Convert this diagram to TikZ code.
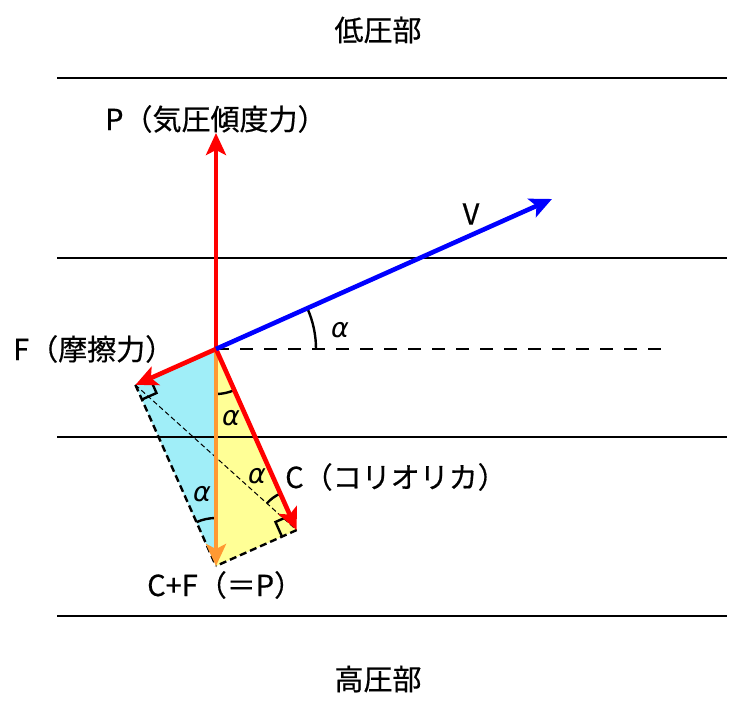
\documentclass[tikz,border=0pt]{standalone}
\usepackage{fontspec}
\setmainfont{Noto Sans CJK JP}[FakeBold=0.5]
\newfontfamily\greekfont{DejaVu Sans}
\usetikzlibrary{arrows.meta,calc}
\definecolor{myorange}{RGB}{255,153,51}
\definecolor{mycyan}{RGB}{160,238,248}
\definecolor{myyellow}{RGB}{255,255,150}
\tikzset{
  vec/.style={line width=4.6pt,-{Stealth[length=22pt,width=20pt,inset=5pt]}},
  band/.style={line width=2.2pt,black},
  dashline/.style={line width=2.4pt,black,dash pattern=on 7pt off 4pt},
  thindash/.style={line width=1pt,black,dash pattern=on 5pt off 3pt},
  anglearc/.style={line width=2.4pt,black},
  lbl/.style={inner sep=0pt,font=\fontsize{29}{32}\selectfont},
  alab/.style={inner sep=0pt,font=\greekfont\itshape\fontsize{27}{30}\selectfont}
}
\begin{document}
\begin{tikzpicture}[x=1pt,y=-1pt]
\useasboundingbox (0,0) rectangle (729,708);
% key points
\coordinate (O) at (216,349);
\coordinate (Ptip) at (216,133);
\coordinate (Vtip) at (552,199);
\coordinate (Fend) at (135.4,384.9);
\coordinate (Cend) at (296.6,530.1);
\coordinate (Send) at (216,566);
\coordinate (Dend) at (662,349);
% bands
\coordinate (L1a) at (57,78);  \coordinate (L1b) at (727,78);
\coordinate (L2a) at (57,258); \coordinate (L2b) at (727,258);
\coordinate (L3a) at (57,437); \coordinate (L3b) at (727,437);
\coordinate (L4a) at (57,616); \coordinate (L4b) at (727,616);
% fills
\fill[mycyan] (O) -- (Fend) -- (Send) -- cycle;
\fill[myyellow] (O) -- (Cend) -- (Send) -- cycle;
% horizontal lines
\draw[band] (L1a) -- (L1b);
\draw[band] (L2a) -- (L2b);
\draw[band] (L3a) -- (L3b);
\draw[band] (L4a) -- (L4b);
% dashed lines
\draw[dashline,dash pattern=on 13pt off 11pt] (O) -- (Dend);
\draw[thindash] (Fend) -- (Cend);
\draw[dashline] (Fend) -- (Send);
\draw[dashline] (Cend) -- (Send);
% right angle marks
\coordinate (fa) at ($(Fend)!16pt!(O)$);
\coordinate (fc) at ($(Fend)!16pt!(Send)$);
\draw[anglearc] (fa) -- ($(fa)+(fc)-(Fend)$) -- (fc);
\coordinate (ca) at ($(Cend)!16pt!(O)$);
\coordinate (cc) at ($(Cend)!16pt!(Send)$);
\draw[anglearc] (ca) -- ($(ca)+(cc)-(Cend)$) -- (cc);
% angle arcs
\draw[anglearc] ($(O)+(100,0)$) arc[start angle=0,end angle=-24,radius=100];
\node[alab] (a1) at (340,330) {α};
\draw[anglearc] ($(O)+(0,45)$) arc[start angle=90,end angle=66,radius=45];
\node[alab] (a2) at (231,418) {α};
\draw[anglearc] ($(Cend)+({40*cos(-114)},{40*sin(-114)})$) arc[start angle=-114,end angle=-138,radius=40];
\node[alab] (a3) at (257,476) {α};
\draw[anglearc] ($(Send)+(0,-48)$) arc[start angle=-90,end angle=-114,radius=48];
\node[alab] (a4) at (202,494) {α};
% vectors
\draw[vec,myorange] (O) -- (Send);
\draw[vec,red] (O) -- (Cend);
\draw[vec,red] (O) -- (Fend);
\draw[vec,red] (O) -- (Ptip);
\draw[vec,blue] (O) -- (Vtip);
% labels
\node[lbl] (low) at (378,30) {低圧部};
\node[lbl] (high) at (378,679) {高圧部};
\node[lbl,anchor=west] (pl) at (105,119) {P（気圧傾度力）};
\node[lbl] (vl) at (471,214) {V};
\node[lbl,anchor=west] (fl) at (13,349) {F（摩擦力）};
\node[lbl,anchor=west] (cl) at (285,477) {C（コリオリカ）};
\node[lbl,anchor=west] (sl) at (147,585) {C+F（＝P）};
\end{tikzpicture}
\end{document}
